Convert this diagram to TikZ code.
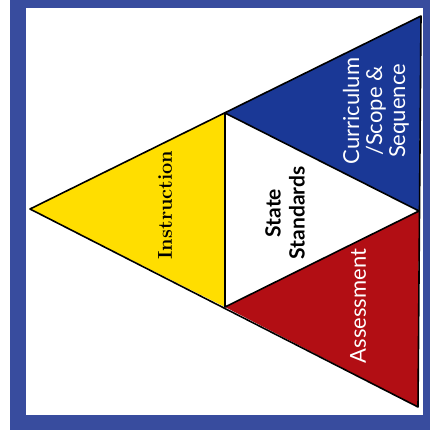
\documentclass[tikz,border=0pt]{standalone}
\usepackage{fontspec}
\newfontfamily\labelsans{Lato}
\usepackage{tikz}
\usetikzlibrary{positioning}
\definecolor{frameblue}{RGB}{56,76,158}
\definecolor{instyellow}{RGB}{255,222,0}
\definecolor{currblue}{RGB}{26,56,150}
\definecolor{assred}{RGB}{178,14,20}

\begin{document}
\begin{tikzpicture}[
  x=1pt, y=-1pt,
  edge/.style={draw=black, line width=1.6pt, line join=round},
  lbl/.style={rotate=90, align=center, inner sep=0pt},
  serif/.style={lbl, font=\bfseries\fontsize{20}{24}\selectfont},
  sans/.style={lbl, font=\labelsans\fontsize{22}{23}\selectfont},
]
\useasboundingbox (0,0) rectangle (430,439);
% frame
\fill[frameblue] (10,0) rectangle (430,430);
\fill[white] (26,8) rectangle (423,415);
% corners of the big triangle and its midpoints
\coordinate (apex) at (30,209);
\coordinate (tr) at (421,16);
\coordinate (br) at (418,407);
\coordinate (mt) at (225,113);
\coordinate (mb) at (225,307);
\coordinate (mr) at (419,211);
\fill[instyellow] (apex) -- (mt) -- (mb) -- cycle;
\fill[currblue] (mt) -- (tr) -- (mr) -- cycle;
\fill[assred] (mb) -- (mr) -- (br) -- cycle;
\draw[edge] (apex) -- (tr) -- (br) -- cycle;
\draw[edge] (mt) -- (mb) -- (mr) -- cycle;
% labels
\node[serif] (instr) at (165,205) {Instruction};
\node[sans, font=\labelsans\bfseries\fontsize{21}{24}\selectfont] (std) at (285,213) {State\\Standards};
\node[sans, text=white] (curr) at (376,111) {Curriculum\\/Scope \&\\Sequence};
\node[sans, text=white] (assess) at (358,306) {Assessment};
\end{tikzpicture}
\end{document}
